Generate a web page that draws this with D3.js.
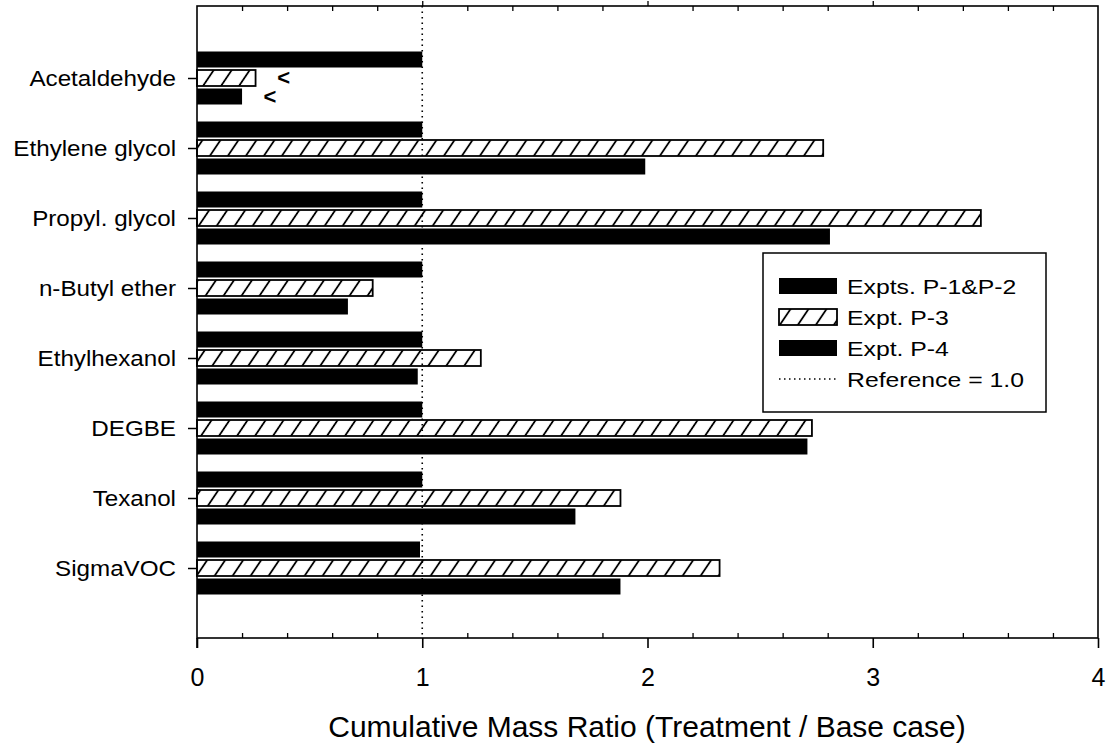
<!DOCTYPE html>
<html>
<head>
<meta charset="utf-8">
<script src="https://cdn.jsdelivr.net/npm/d3@7"></script>
<style>
  body { margin: 0; background: #fff; }
  svg { font-family: "Liberation Sans", Arial, sans-serif; }
</style>
</head>
<body>
<svg width="1109" height="747"></svg>
<script>
// categories top to bottom
var categories = ["Acetaldehyde", "Ethylene glycol", "Propyl. glycol", "n-Butyl ether",
                  "Ethylhexanol", "DEGBE", "Texanol", "SigmaVOC"];
var seriesNames = ["Expts. P-1&P-2", "Expt. P-3", "Expt. P-4"];
var p12 = [1.0, 1.0, 1.0, 1.0, 1.0, 1.0, 1.0, 0.99];
var p3  = [0.26, 2.78, 3.48, 0.78, 1.26, 2.73, 1.88, 2.32];
var p4  = [0.20, 1.99, 2.81, 0.67, 0.98, 2.71, 1.68, 1.88];
// "<" marks: below detection limit
var lessThan = [[false, true, true], [false, false, false], [false, false, false], [false, false, false],
                [false, false, false], [false, false, false], [false, false, false], [false, false, false]];
var xTicks = [0, 1, 2, 3, 4];
var refValue = 1.0;

var svg = d3.select("svg");
var plotLeft = 197, plotRight = 1098, plotTop = 6, plotBottom = 638;

var x = d3.scaleLinear().domain([0, 4]).range([plotLeft, plotRight]);
var y = d3.scaleLinear().domain([0, 9]).range([plotTop + 2, plotBottom]);

// hatch pattern
var defs = svg.append("defs");
var pat = defs.append("pattern")
    .attr("id", "hatch")
    .attr("patternUnits", "userSpaceOnUse")
    .attr("width", 18).attr("height", 18)
    .attr("patternTransform", "skewX(-34)");
pat.append("rect").attr("width", 18).attr("height", 18).attr("fill", "#fff");
pat.append("line").attr("x1", 9).attr("y1", 0).attr("x2", 9).attr("y2", 18)
    .attr("stroke", "#000").attr("stroke-width", 2.2);

var barH = 16, offs = [-18.5, 0, 18.5];
var series = [p12, p3, p4];
var fills = ["#000", "url(#hatch)", "#000"];

var bars = svg.append("g");
series.forEach(function(vals, s) {
    bars.selectAll(null)
        .data(vals)
        .enter().append("rect")
        .attr("x", x(0))
        .attr("y", function(d, i) { return y(i + 1) + offs[s] - barH / 2; })
        .attr("width", function(d) { return x(d) - x(0); })
        .attr("height", barH)
        .attr("fill", fills[s])
        .attr("stroke", "#000")
        .attr("stroke-width", s == 1 ? 1.8 : 0);
});

// "<" annotations
lessThan.forEach(function(row, i) {
    row.forEach(function(flag, s) {
        if (!flag) return;
        svg.append("text")
            .attr("x", x(series[s][i]) + 28)
            .attr("y", y(i + 1) + offs[s] + 7)
            .attr("text-anchor", "middle")
            .attr("font-size", 22).attr("font-weight", "bold")
            .text("<");
    });
});

// reference line
svg.append("line")
    .attr("x1", x(refValue)).attr("x2", x(refValue))
    .attr("y1", plotTop).attr("y2", plotBottom)
    .attr("stroke", "#000").attr("stroke-width", 1.6)
    .attr("stroke-dasharray", "1.5,4");

// frame
svg.append("rect")
    .attr("x", plotLeft).attr("y", plotTop)
    .attr("width", plotRight - plotLeft).attr("height", plotBottom - plotTop)
    .attr("fill", "none").attr("stroke", "#000").attr("stroke-width", 1.6);

// bottom axis: major ticks outward, minor inward
var xAxis = d3.axisBottom(x).tickValues(xTicks).tickSize(10).tickPadding(20)
    .tickFormat(d3.format("d"));
var gx = svg.append("g").attr("transform", "translate(0," + plotBottom + ")").call(xAxis);
gx.select(".domain").remove();
gx.selectAll("line").attr("stroke-width", 1.6);
gx.selectAll("text").attr("font-size", 25).attr("fill", "#000");

var minor = d3.range(0.2, 4, 0.2).filter(function(v) { return Math.abs(v - Math.round(v)) > 0.01; });
var gxm = svg.append("g").attr("transform", "translate(0," + plotBottom + ")")
    .call(d3.axisTop(x).tickValues(minor).tickSize(5).tickFormat(""));
gxm.select(".domain").remove();
gxm.selectAll("line").attr("stroke-width", 1.3);

// top axis
var gt = svg.append("g").attr("transform", "translate(0," + plotTop + ")")
    .call(d3.axisBottom(x).tickValues(minor).tickSize(5).tickFormat(""));
gt.select(".domain").remove();
gt.selectAll("line").attr("stroke-width", 1.3);
var gt2 = svg.append("g").attr("transform", "translate(0," + plotTop + ")")
    .call(d3.axisTop(x).tickValues(xTicks.slice(1, 4)).tickSize(5).tickFormat(""));
gt2.select(".domain").remove();
gt2.selectAll("line").attr("stroke-width", 1.3);

// left axis
var yAxis = d3.axisLeft(y).tickValues(d3.range(1, 9)).tickSize(9)
    .tickFormat(function(d) { return categories[d - 1]; });
var gy = svg.append("g").attr("transform", "translate(" + plotLeft + ",0)").call(yAxis);
gy.select(".domain").remove();
gy.selectAll("line").attr("stroke-width", 1.5);
gy.selectAll("text")
    .attr("font-size", 22).attr("fill", "#000")
    .attr("x", 0)
    .attr("transform", "translate(-21,0) scale(1.1,1)");

// left axis extends a little below
svg.append("line").attr("x1", plotLeft).attr("x2", plotLeft)
    .attr("y1", plotBottom).attr("y2", plotBottom + 10)
    .attr("stroke", "#000").attr("stroke-width", 1.6);

// axis title
svg.append("text")
    .attr("x", 647).attr("y", 737)
    .attr("text-anchor", "middle").attr("font-size", 30)
    .text("Cumulative Mass Ratio (Treatment / Base case)");

// legend
var lg = svg.append("g");
lg.append("rect").attr("x", 763).attr("y", 253).attr("width", 283).attr("height", 159)
    .attr("fill", "#fff").attr("stroke", "#000").attr("stroke-width", 1.5);
var rowY = [286, 317, 348, 379];
function legendText(label, ty) {
    lg.append("text")
        .attr("transform", "translate(847," + (ty + 8) + ") scale(1.18,1)")
        .attr("font-size", 21).text(label);
}
seriesNames.forEach(function(name, s) {
    lg.append("rect").attr("x", 779).attr("y", rowY[s] - 8).attr("width", 58).attr("height", 16)
        .attr("fill", fills[s]).attr("stroke", "#000").attr("stroke-width", s == 1 ? 1.8 : 0);
    legendText(name, rowY[s]);
});
lg.append("line").attr("x1", 779).attr("x2", 837).attr("y1", rowY[3]).attr("y2", rowY[3])
    .attr("stroke", "#000").attr("stroke-width", 1.4).attr("stroke-dasharray", "1.5,3.5");
legendText("Reference = 1.0", rowY[3]);
</script>
</body>
</html>
